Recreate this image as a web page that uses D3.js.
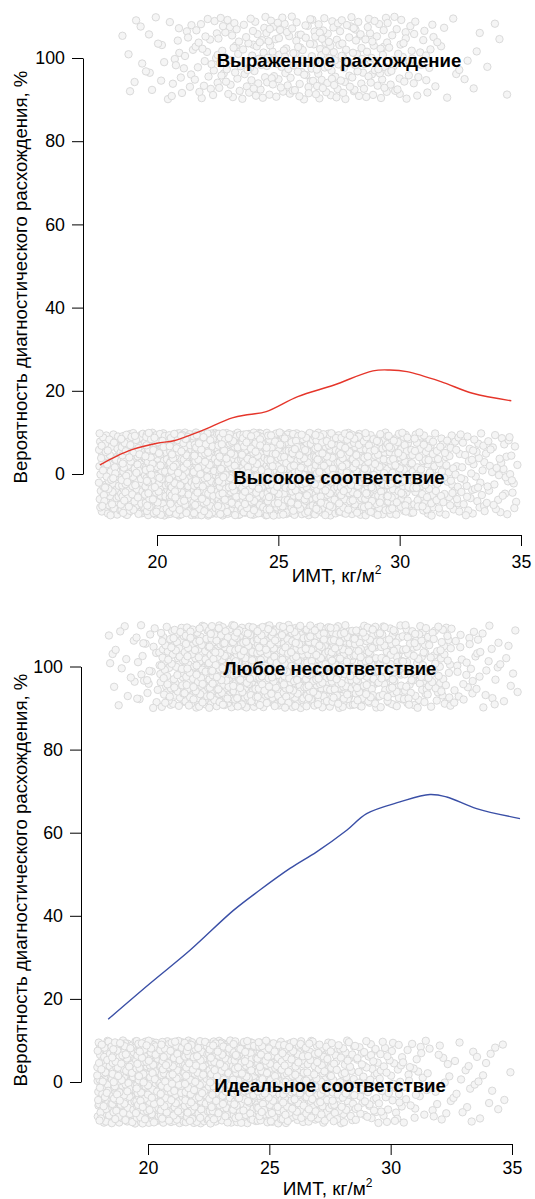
<!DOCTYPE html>
<html>
<head>
<meta charset="utf-8">
<style>
  body { margin: 0; background: #fff; }
  svg { display: block; font-family: "Liberation Sans", Arial, sans-serif; }
</style>
</head>
<body>
<script src="https://d3js.org/d3.v7.min.js"></script>
<script>

// BMI bins (centre of a 1-unit bin) and how many patients fall into each band
var bmiBins = [18, 19, 20, 21, 22, 23, 24, 25, 26, 27, 28, 29, 30, 31, 32, 33, 34, 35];

// top chart: high agreement (0) / marked discrepancy (100)
var lowCounts1  = [80, 150, 190, 215, 222, 220, 210, 192, 172, 150, 127, 105, 86, 65, 45, 38, 30, 10];
var highCounts1 = [0, 7, 10, 18, 24, 30, 34, 37, 39, 40, 38, 34, 28, 18, 7, 5, 4, 2];
var lowRange1  = [17.6, 34.9];
var highRange1 = [18.4, 34.5];

// bottom chart: ideal agreement (0) / any discrepancy (100)
var lowCounts2  = [70, 150, 170, 172, 165, 150, 135, 115, 97, 80, 62, 50, 36, 23, 16, 13, 10, 3];
var highCounts2 = [2, 12, 24, 65, 85, 98, 106, 108, 106, 103, 94, 85, 70, 58, 45, 22, 17, 8];
var lowRange2  = [17.9, 35.0];
var highRange2 = [18.3, 35.25];

// smoothed probability curves
var curveBmi1  = [17.65, 18.3, 19.0, 20.0, 20.7, 21.8, 23.1, 23.8, 24.5, 25.8, 27.3, 28.9, 29.6, 30.3, 31.7, 33.0, 34.6];
var curveProb1 = [2.2, 4.2, 5.9, 7.4, 8.0, 10.3, 13.5, 14.3, 15.0, 18.6, 21.4, 24.8, 25.0, 24.6, 22.2, 19.4, 17.6];
var curveBmi2  = [18.36, 20.08, 21.73, 23.52, 24.61, 25.85, 26.95, 28.19, 29.01, 30.38, 31.62, 32.31, 33.54, 35.33];
var curveProb2 = [15.1, 23.7, 31.7, 41.3, 46.2, 51.4, 55.4, 60.6, 64.6, 67.4, 69.2, 68.6, 65.8, 63.4];

var xTicks = [20, 25, 30, 35];
var yTicks = [0, 20, 40, 60, 80, 100];
var xTitle = "ИМТ, кг/м";
var yTitle = "Вероятность диагностического расхождения, %";

var panels = [
  { low: lowCounts1, high: highCounts1, lowR: lowRange1, highR: highRange1,
    bmi: curveBmi1, prob: curveProb1, color: "#e5352a",
    lowLabel: "Высокое соответствие", highLabel: "Выраженное расхождение",
    x20: 157, x35: 521, y0: 474, y100: 58, yAxisX: 83, xAxisY: 535,
    xPad: 9, titleY: 582, yTitleY: 277 },
  { low: lowCounts2, high: highCounts2, lowR: lowRange2, highR: highRange2,
    bmi: curveBmi2, prob: curveProb2, color: "#3a4fa6",
    lowLabel: "Идеальное соответствие", highLabel: "Любое несоответствие",
    x20: 148, x35: 512, y0: 1082, y100: 666.5, yAxisX: 81, xAxisY: 1144,
    xPad: 6, titleY: 1195, yTitleY: 880 }
];

var W = 535, H = 1199;
var svg = d3.select("body").append("svg")
    .attr("width", W)
    .attr("height", H);

// low-discrepancy sequence used to spread the jittered points
function halton(i, b) {
  var f = 1, r = 0;
  while (i > 0) { f = f / b; r += f * (i % b); i = Math.floor(i / b); }
  return r;
}

function jitter(counts, range, level, start) {
  var pts = [], k = start;
  counts.forEach(function(n, j) {
    var lo = Math.max(bmiBins[j] - 0.5, range[0]);
    var hi = Math.min(bmiBins[j] + 0.5, range[1]);
    if (hi <= lo) return;
    for (var m = 0; m < n; m++) {
      k++;
      pts.push({ bmi: lo + (hi - lo) * halton(k, 2), p: level - 10 + 20 * halton(k, 3) });
    }
  });
  return pts;
}

panels.forEach(function(c, pi) {
  var x = d3.scaleLinear().domain([20, 35]).range([c.x20, c.x35]);
  var y = d3.scaleLinear().domain([0, 100]).range([c.y0, c.y100]);
  var g = svg.append("g");

  var pts = jitter(c.low, c.lowR, 0, 7 + pi * 5000).concat(jitter(c.high, c.highR, 100, 2500 + pi * 5000));

  g.append("g").selectAll("circle")
      .data(pts)
    .enter().append("circle")
      .attr("cx", d => x(d.bmi))
      .attr("cy", d => y(d.p))
      .attr("r", 3.7)
      .attr("fill", "#f5f5f5")
      .attr("stroke", "#dadada")
      .attr("stroke-width", 1);

  var line = d3.line()
      .x(d => x(d[0]))
      .y(d => y(d[1]))
      .curve(d3.curveCatmullRom);

  g.append("path")
      .datum(c.bmi.map((b, i) => [b, c.prob[i]]))
      .attr("d", line)
      .attr("fill", "none")
      .attr("stroke", c.color)
      .attr("stroke-width", 1.4);

  g.append("text")
      .attr("x", x(27.5))
      .attr("y", y(100) + 2)
      .attr("text-anchor", "middle")
      .attr("dominant-baseline", "central")
      .attr("font-weight", "bold")
      .attr("font-size", 18.6)
      .text(c.highLabel);

  g.append("text")
      .attr("x", x(27.5))
      .attr("y", y(0) + 3)
      .attr("text-anchor", "middle")
      .attr("dominant-baseline", "central")
      .attr("font-weight", "bold")
      .attr("font-size", 18.6)
      .text(c.lowLabel);

  var ya = g.append("g")
      .attr("transform", "translate(" + c.yAxisX + ",0)")
      .call(d3.axisLeft(y).tickValues(yTicks).tickSize(11).tickSizeOuter(0).tickPadding(7));

  var xa = g.append("g")
      .attr("transform", "translate(0," + c.xAxisY + ")")
      .call(d3.axisBottom(x).tickValues(xTicks).tickSize(11).tickSizeOuter(0).tickPadding(c.xPad));

  [ya, xa].forEach(a => {
    a.attr("font-family", null).attr("font-size", 17.8);
    a.selectAll("path, line").attr("stroke", "#000").attr("stroke-width", 1);
    a.selectAll("text").attr("fill", "#000");
  });

  var t = g.append("text")
      .attr("x", x(27.4))
      .attr("y", c.titleY)
      .attr("text-anchor", "middle")
      .attr("font-size", 19)
      .text(xTitle);
  t.append("tspan")
      .attr("dy", -8)
      .attr("font-size", 12)
      .text("2");

  g.append("text")
      .attr("transform", "translate(27," + c.yTitleY + ") rotate(-90)")
      .attr("text-anchor", "middle")
      .attr("font-size", 18.6)
      .text(yTitle);
});

</script>
</body>
</html>
